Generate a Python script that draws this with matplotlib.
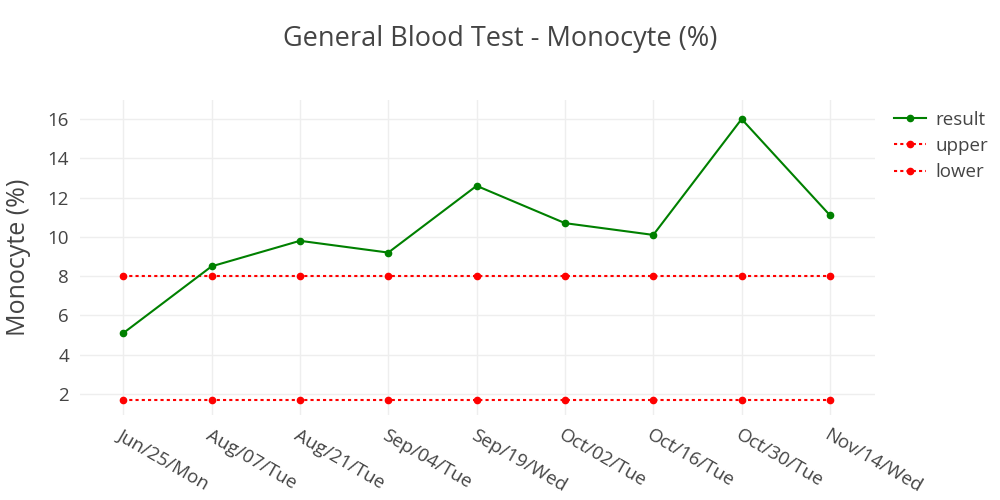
import matplotlib
matplotlib.use("Agg")
import matplotlib.pyplot as plt

dates = ["Jun/25/Mon", "Aug/07/Tue", "Aug/21/Tue", "Sep/04/Tue", "Sep/19/Wed",
         "Oct/02/Tue", "Oct/16/Tue", "Oct/30/Tue", "Nov/14/Wed"]
result = [5.1, 8.5, 9.8, 9.2, 12.6, 10.7, 10.1, 16.0, 11.1]
upper = [8.0] * 9
lower = [1.7] * 9
yticks = [2, 4, 6, 8, 10, 12, 14, 16]

plt.rcParams["font.family"] = ["Open Sans", "DejaVu Sans"]
text_c = "#444444"

fig = plt.figure(figsize=(10, 5), dpi=100)
ax = fig.add_axes([0.08, 0.17, 0.795, 0.63])
x = list(range(len(dates)))

ax.plot(x, result, color="green", lw=1.5, marker="o", ms=4.5, label="result", zorder=3)
ax.plot(x, upper, color="red", lw=1.5, ls=(0, (1.5, 1.5)), marker="o", ms=4.5, label="upper", zorder=2)
ax.plot(x, lower, color="red", lw=1.5, ls=(0, (1.5, 1.5)), marker="o", ms=4.5, label="lower", zorder=2)

ax.set_xlim(-0.49, 8.51)
ax.set_ylim(0.93, 16.97)
ax.set_xticks(x)
ax.set_xticklabels(dates, rotation=-30, ha="left", va="top", rotation_mode="anchor")
ax.set_yticks(yticks)
ax.tick_params(length=0, labelsize=13.5, colors=text_c, pad=8)
ax.grid(True, color="#eeeeee", lw=1)
ax.set_axisbelow(True)
for s in ax.spines.values():
    s.set_visible(False)

ax.set_ylabel("Monocyte (%)", fontsize=18, color=text_c, labelpad=12)
fig.suptitle("General Blood Test - Monocyte (%)", fontsize=19.5, color=text_c, y=0.95)

leg = ax.legend(loc="upper left", bbox_to_anchor=(1.003, 1.02), frameon=False,
                fontsize=13.5, handlelength=1.7, labelspacing=0.45, handletextpad=0.5)
for t in leg.get_texts():
    t.set_color(text_c)

fig.savefig("out.png", dpi=100)
